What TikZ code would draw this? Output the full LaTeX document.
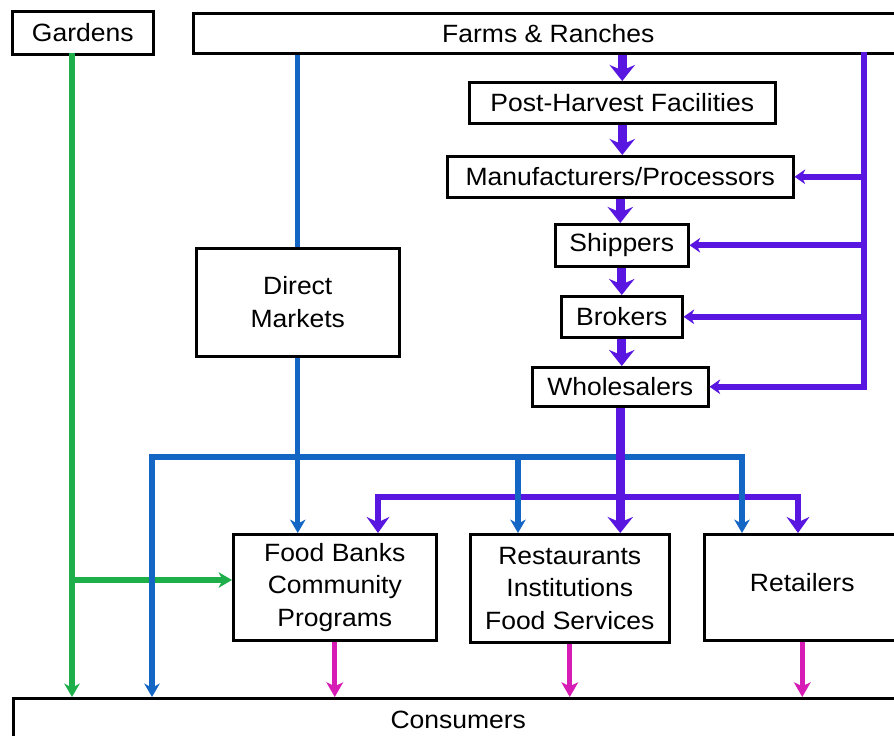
\documentclass[tikz,border=0pt]{standalone}
\usepackage{fontspec}
\setmainfont{Liberation Sans}[FakeStretch=1.06]
\usetikzlibrary{arrows.meta}
\definecolor{flowpurple}{HTML}{5816E0}
\definecolor{flowblue}{HTML}{1466C4}
\definecolor{flowgreen}{HTML}{1EAE4A}
\definecolor{flowmagenta}{HTML}{D61CB4}
\begin{document}
\begin{tikzpicture}[x=0.75pt,y=-0.75pt,
  box/.style={draw=black, line width=1.9pt, fill=white, inner sep=0pt,
    anchor=north west, align=center, font=\fontsize{18.75}{24.4}\selectfont},
  mainflow/.style={draw=flowpurple, line width=6.8pt,
    -{Stealth[length=12pt,width=19pt,inset=4pt]}},
  splitflow/.style={draw=flowpurple, line width=5pt},
  sidearrow/.style={draw=flowpurple, line width=4.5pt,
    -{Stealth[length=8pt,width=11pt,inset=2.5pt]}},
  directflow/.style={draw=flowblue, line width=3.8pt},
  directtip/.style={-{Stealth[length=10pt,width=11.5pt,inset=3pt]}},
  gardenflow/.style={draw=flowgreen, line width=3.8pt,
    -{Stealth[length=10pt,width=11.5pt,inset=3pt]}},
  retailflow/.style={draw=flowmagenta, line width=3.8pt,
    -{Stealth[length=11pt,width=12.5pt,inset=3pt]}}
]
\useasboundingbox (0,0) rectangle (894,736);
\clip (0,0) rectangle (894,736);
\fill[white] (0,0) rectangle (894,736);

% boxes (placed by their top left corner)
\node[box, minimum width=105.75pt, minimum height=32.25pt] (gardens) at (11,10) {Gardens};
\node[box, minimum width=532.5pt, minimum height=30pt] (farms) at (192,12) {Farms \& Ranches};
\node[box, minimum width=229.5pt, minimum height=30.75pt] (ph) at (468,81) {Post-Harvest Facilities};
\node[box, minimum width=259.5pt, minimum height=30.75pt] (manuf) at (446,155) {Manufacturers/Processors};
\node[box, minimum width=99.75pt, minimum height=31.5pt] (ship) at (554,223) {Shippers};
\node[box, minimum width=90.75pt, minimum height=30.75pt] (brok) at (560,295) {Brokers};
\node[box, minimum width=132pt, minimum height=29.25pt] (whole) at (531,366) {Wholesalers};
\node[box, minimum width=152.25pt, minimum height=81pt] (dm) at (195,247) {Direct\\Markets};
\node[box, minimum width=152.25pt, minimum height=79.5pt] (fb) at (232,533) {Food Banks\\Community\\Programs};
\node[box, minimum width=149.25pt, minimum height=81pt] (rest) at (469,533) {Restaurants\\Institutions\\Food Services};
\node[box, minimum width=147pt, minimum height=79.5pt, text depth=7.5pt] (ret) at (703,533) {Retailers};
\node[box, minimum width=667.5pt, minimum height=32.25pt] (cons) at (12,697) {Consumers};

% reference points for the routed lines
\coordinate (gx) at (72,53);
\coordinate (gb) at (72,580);
\coordinate (bl) at (152,457);
\coordinate (bm) at (518,457);
\coordinate (br) at (742,457);
\coordinate (pl) at (378,497);
\coordinate (pr) at (798,497);
\coordinate (rx) at (864,52);

% garden produce
\draw[gardenflow] (gx) -- (gx |- cons.north);
\draw[gardenflow] (gb) -- (gb -| fb.west);

% direct marketing
\draw[directflow] (farms.south -| dm.north) -- (dm.north);
\draw[directflow, directtip] (dm.south) -- (dm.south |- fb.north);
\draw[directflow, directtip] (br) -- (bl) -- (bl |- cons.north);

% supply chain
\draw[mainflow] (farms.south -| ph.north) -- (ph.north);
\draw[mainflow] (ph.south) -- (ph.south |- manuf.north);
\draw[mainflow] (manuf.south) -- (manuf.south |- ship.north);
\draw[mainflow] (ship.south) -- (ship.south |- brok.north);
\draw[mainflow] (brok.south) -- (brok.south |- whole.north);
\draw[mainflow] (whole.south) -- (whole.south |- rest.north);
\draw[splitflow, {Stealth[length=12pt,width=17pt,inset=4pt]}-{Stealth[length=12pt,width=17pt,inset=4pt]}]
  (pl |- fb.north) -- (pl) -- (pr) -- (pr |- ret.north);

% farm deliveries along the right side
\draw[sidearrow] (rx) -- (rx |- whole.east) -- (whole.east);
\draw[sidearrow] (rx |- manuf.east) -- (manuf.east);
\draw[sidearrow] (rx |- ship.east) -- (ship.east);
\draw[sidearrow] (rx |- brok.east) -- (brok.east);

% direct branches crossing the distribution bar
\draw[directflow, directtip, line cap=rect] (bm) -- (bm |- rest.north);
\draw[directflow, directtip, line cap=rect] (br) -- (br |- ret.north);

% outlets to consumers
\draw[retailflow] (fb.south) -- (fb.south |- cons.north);
\draw[retailflow] (rest.south) -- (rest.south |- cons.north);
\draw[retailflow] (ret.south) -- (ret.south |- cons.north);
\end{tikzpicture}
\end{document}
